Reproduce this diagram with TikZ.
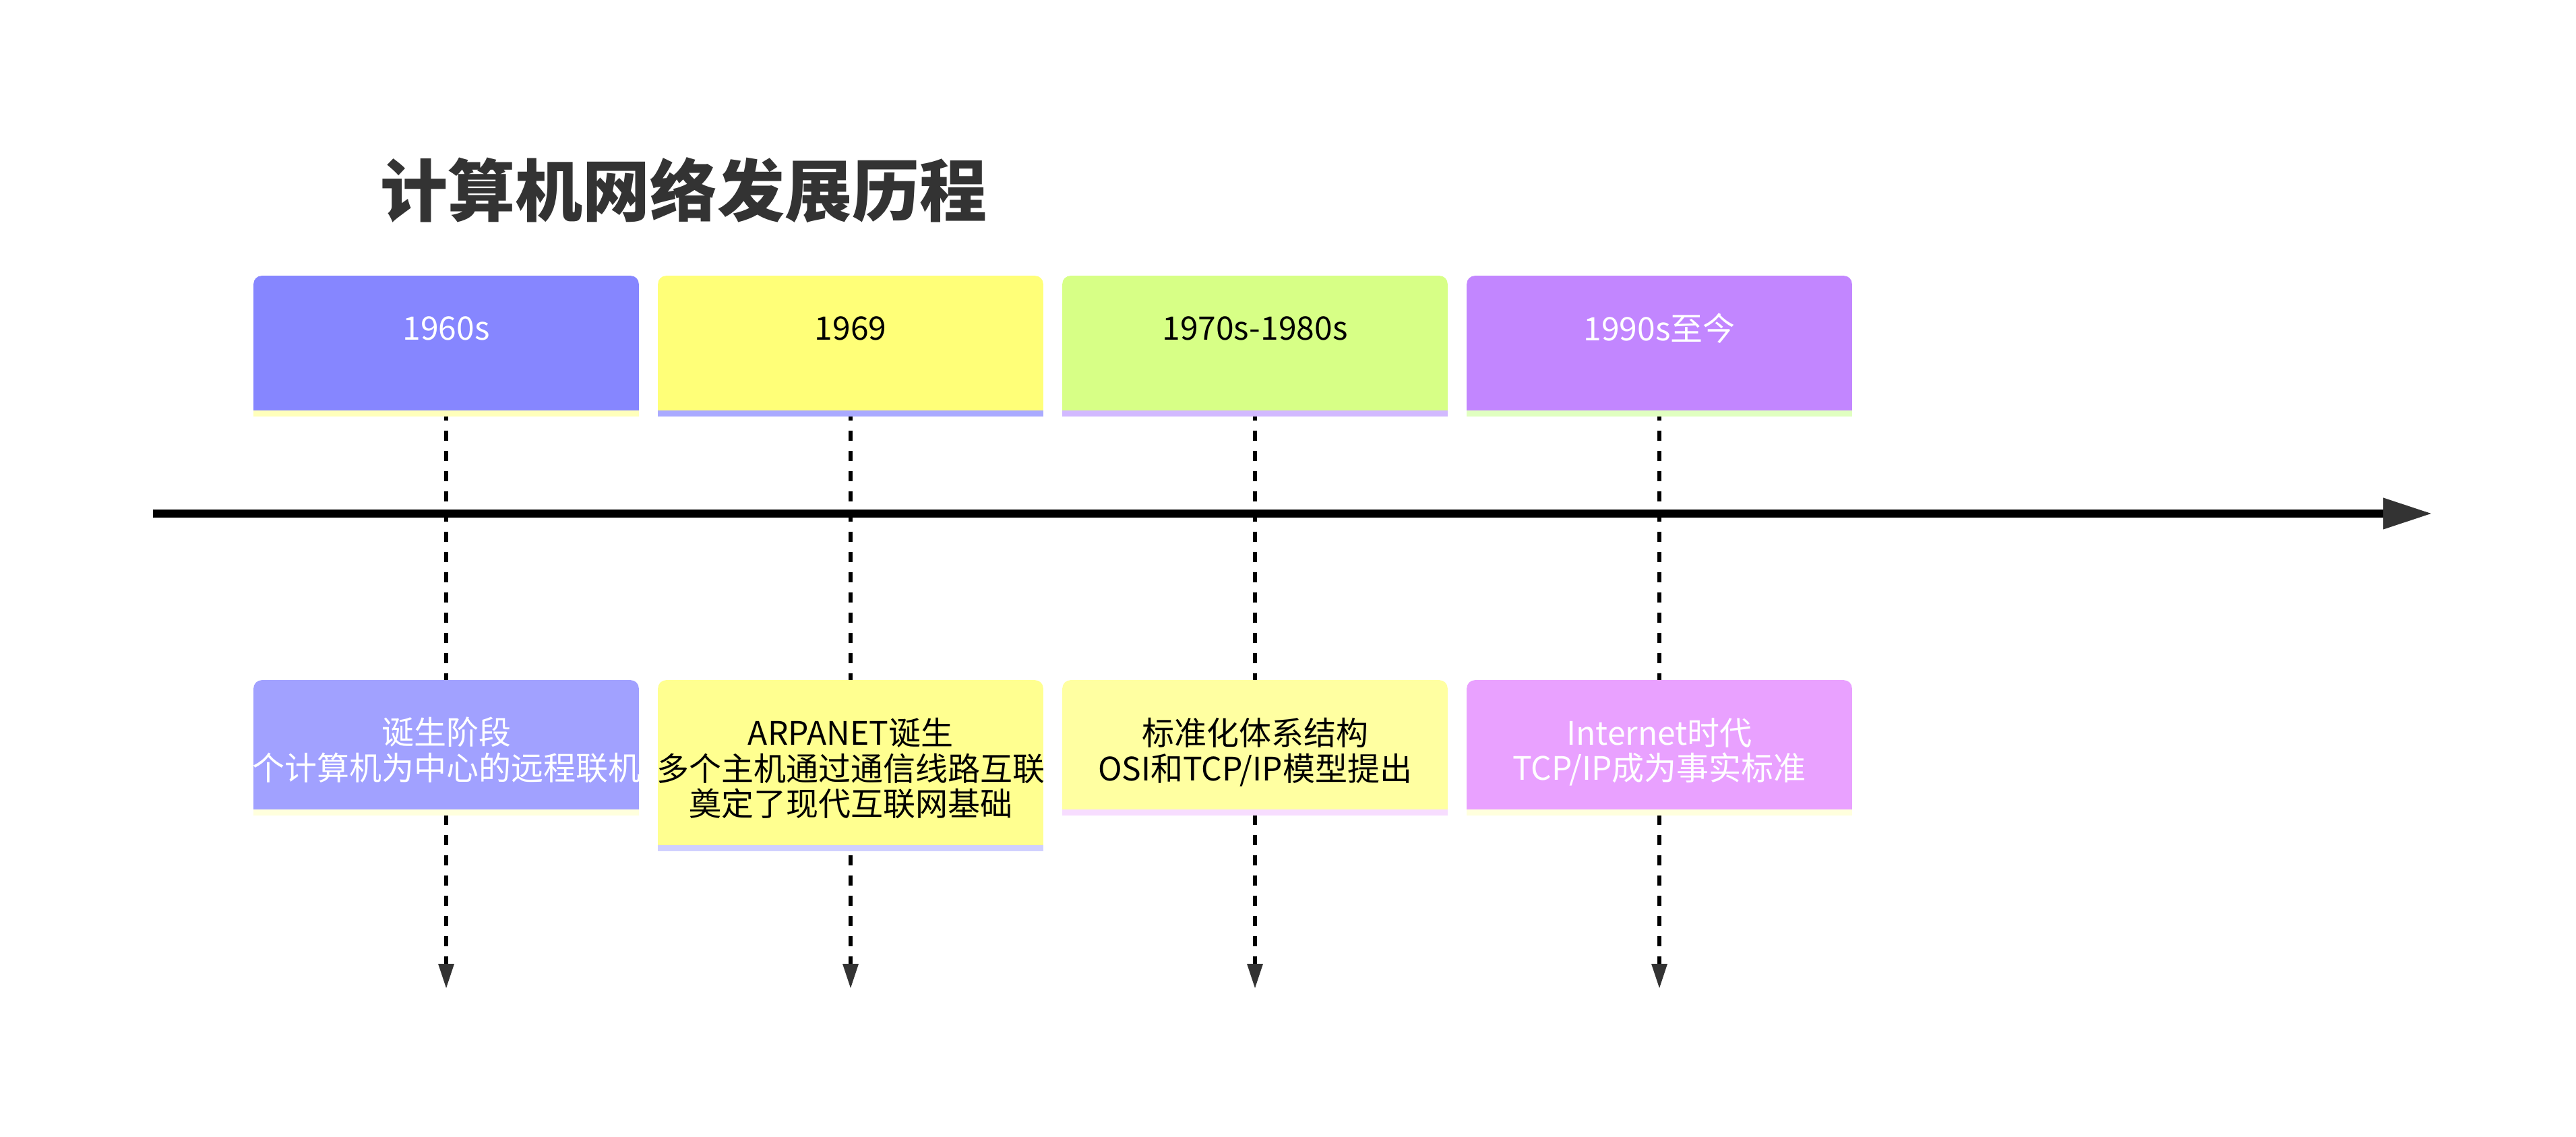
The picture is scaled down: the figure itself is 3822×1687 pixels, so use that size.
\documentclass[tikz,border=0pt]{standalone}
\usepackage{fontspec}
\setmainfont{Noto Sans CJK SC}
\usetikzlibrary{arrows.meta,backgrounds}
\definecolor{tc}{HTML}{333333}
\definecolor{pA}{HTML}{8686FF}
\definecolor{pB}{HTML}{FFFF78}
\definecolor{pC}{HTML}{D7FF86}
\definecolor{pD}{HTML}{C286FF}
\definecolor{psA}{HTML}{FFFFBB}
\definecolor{psB}{HTML}{AAAAFF}
\definecolor{psC}{HTML}{D2B9FF}
\definecolor{psD}{HTML}{E0FFC0}
\definecolor{eA}{HTML}{A1A1FF}
\definecolor{eB}{HTML}{FFFF90}
\definecolor{eC}{HTML}{FFFFA1}
\definecolor{eD}{HTML}{E9A1FF}
\definecolor{esA}{HTML}{FFFFDD}
\definecolor{esB}{HTML}{D0D0FF}
\definecolor{esC}{HTML}{F7DDFF}
\definecolor{esD}{HTML}{FFFFDD}
\newcommand\boxfill[3]{%
  \fill[#2] (#1.south west) [rounded corners=3pt] -- (#1.north west) -- (#1.north east) [sharp corners] -- (#1.south east) -- cycle;
  \fill[#3] (#1.south west) rectangle ([yshift=-2.25pt]#1.south east);
}
\tikzset{
  tbox/.style={rectangle, inner sep=0pt, minimum width=142.5pt, minimum height=49.5pt},
  ebox/.style={rectangle, inner sep=0pt, minimum width=142.5pt},
  ptext/.style={inner sep=0pt, font=\fontsize{12pt}{14pt}\selectfont},
  etext/.style={inner sep=0pt, align=center, font=\fontsize{12pt}{13.1pt}\selectfont},
  dline/.style={line width=1.5pt, black, dash pattern=on 3.75pt off 3.75pt,
    -{Triangle[length=9pt,width=6pt,line width=0pt,color=tc]}},
  axis/.style={line width=3pt, black,
    -{Triangle[length=17.75pt,width=11.75pt,line width=0pt,color=tc]}}
}
\begin{document}
\begin{tikzpicture}[x=0.25pt,y=-0.25pt]
\useasboundingbox (0,0) rectangle (3822,1687);

\node[font=\fontsize{25pt}{30pt}\selectfont\bfseries, text=tc, inner sep=0pt] (title) at (1014,282) {计算机网络发展历程};

% period boxes
\node[tbox] (p1) at (662,509) {};
\node[tbox] (p2) at (1262,509) {};
\node[tbox] (p3) at (1862,509) {};
\node[tbox] (p4) at (2462,509) {};
\node[ptext, text=white] (p1t) at (662,487) {1960s};
\node[ptext, text=black] (p2t) at (1262,487) {1969};
\node[ptext, text=black] (p3t) at (1862,487) {1970s-1980s};
\node[ptext, text=white] (p4t) at (2462,487) {1990s至今};

% event boxes
\node[ebox, minimum height=47.5pt] (e1) at (662,1105) {};
\node[ebox, minimum height=60.75pt] (e2) at (1262,1131.5) {};
\node[ebox, minimum height=47.5pt] (e3) at (1862,1105) {};
\node[ebox, minimum height=47.5pt] (e4) at (2462,1105) {};
\node[etext, text=white] (e1t) at (662,1113) {诞生阶段\\个计算机为中心的远程联机};
\node[etext, text=black] (e2t) at (1262,1140) {ARPANET诞生\\多个主机通过通信线路互联\\奠定了现代互联网基础};
\node[etext, text=black] (e3t) at (1862,1116) {标准化体系结构\\OSI和TCP/IP模型提出};
\node[etext, text=white] (e4t) at (2462,1116) {Internet时代\\TCP/IP成为事实标准};

% ends of connectors
\coordinate (d1) at (662,1466);
\coordinate (d2) at (1262,1466);
\coordinate (d3) at (1862,1466);
\coordinate (d4) at (2462,1466);
\coordinate (axL) at (227,762);
\coordinate (axR) at (3607,762);

\begin{scope}[on background layer]
  \fill[white] (0,0) rectangle (3822,1687);
  \draw[dline] (p1.south) -- (d1);
  \draw[dline] (p2.south) -- (d2);
  \draw[dline] (p3.south) -- (d3);
  \draw[dline] (p4.south) -- (d4);
  \boxfill{p1}{pA}{psA}
  \boxfill{p2}{pB}{psB}
  \boxfill{p3}{pC}{psC}
  \boxfill{p4}{pD}{psD}
  \boxfill{e1}{eA}{esA}
  \boxfill{e2}{eB}{esB}
  \boxfill{e3}{eC}{esC}
  \boxfill{e4}{eD}{esD}
\end{scope}

\draw[axis] (axL) -- (axR);
\end{tikzpicture}
\end{document}
